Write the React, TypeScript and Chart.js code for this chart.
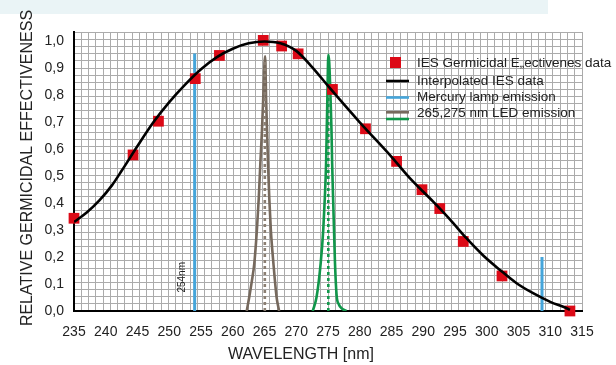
import React, { useEffect, useRef } from 'react';
import { Chart, registerables } from 'chart.js';

Chart.register(...registerables);

// ---- axis setup ----
const xMin = 235;
const xMax = 315;
const xTickStep = 5;
const yMin = 0;
const yMax = 1.035;
const yTickStep = 0.1;
const xGridStep = 80 / 70;
const yGridStep = 0.0265;

const xTitle = 'WAVELENGTH [nm]';
const yTitle = 'RELATIVE GERMICIDAL EFFECTIVENESS';

// ---- IES germicidal effectiveness data (red squares) ----
const iesWavelengths = [235, 244.3, 248.3, 254.1, 257.9, 264.8, 267.7, 270.3, 275.7, 280.9, 285.8, 289.8, 292.6, 296.3, 302.4, 313.1];
const iesValues = [0.344, 0.579, 0.704, 0.862, 0.948, 1.004, 0.983, 0.954, 0.822, 0.676, 0.555, 0.45, 0.38, 0.258, 0.13, 0.0];

// ---- interpolated IES curve ----
const interpWavelengths = [235, 237, 239, 241, 242.5, 245, 247.5, 250, 252.5, 255, 257.5, 260, 262.5, 265, 267.5, 270, 272.5, 275, 280, 285, 288, 291.6, 294.2, 296.8, 299.4, 302.1, 304.7, 307.3, 310, 312.6, 313.1];
const interpValues = [0.33, 0.365, 0.41, 0.467, 0.52, 0.612, 0.7, 0.775, 0.84, 0.897, 0.942, 0.973, 0.993, 1.0, 0.993, 0.965, 0.905, 0.835, 0.7, 0.572, 0.49, 0.405, 0.34, 0.27, 0.207, 0.152, 0.103, 0.066, 0.034, 0.01, 0.004];

// ---- mercury lamp emission lines ----
const mercuryWavelengths = [254, 308.7];
const mercuryPeaks = [0.955, 0.2];
const mercuryLabel = '254nm';

// ---- 265 nm LED emission ----
const led265Wavelengths = [262.2, 262.6, 263.0, 263.4, 263.8, 264.1, 264.35, 264.6, 264.8, 265.0, 265.1, 265.25, 265.4, 265.55, 265.75, 266.0, 266.4, 266.9, 267.3];
const led265Values = [0, 0.052, 0.11, 0.178, 0.3, 0.42, 0.55, 0.67, 0.79, 0.92, 0.945, 0.79, 0.67, 0.55, 0.42, 0.3, 0.178, 0.052, 0];

// ---- 275 nm LED emission ----
const led275Wavelengths = [272.6, 273.2, 273.85, 274.25, 274.5, 274.7, 274.8, 274.9, 275.0, 275.05, 275.2, 275.4, 275.55, 275.65, 275.8, 275.95, 276.1, 276.35, 276.7, 277.15, 277.9];
const led275Values = [0, 0.052, 0.178, 0.3, 0.42, 0.55, 0.67, 0.79, 0.92, 0.95, 0.92, 0.79, 0.67, 0.55, 0.42, 0.3, 0.178, 0.06, 0.025, 0.01, 0];

// ---- LED peak markers (dotted) ----
const ledPeakWavelengths = [265.05, 275.05];
const ledMarkerHeights = [0.93, 0.87];

// ---- legend ----
const legendLabels = ['IES Germicidal E\u201eectivenes data', 'Interpolated IES data', 'Mercury lamp emission', '265,275 nm LED emission'];

const RED = '#dc0a17';
const BLUE = '#45a5da';
const BROWN = '#76695d';
const BROWN_DOT = '#8a7e72';
const GREEN = '#10964a';
const GREEN_DOT = '#12994c';
const TEXT = '#222222';
const FONT = '"Liberation Sans", Arial, sans-serif';

const pts = (xs: number[], ys: number[]) => xs.map((x, i) => ({ x, y: ys[i] }));

const overlayPlugin = {
  id: 'overlay',
  afterDraw(chart: any) {
    const ctx = chart.ctx as CanvasRenderingContext2D;
    const xs = chart.scales.x;
    const ys = chart.scales.y;
    ctx.save();
    ctx.fillStyle = TEXT;
    // y title
    ctx.font = `16px ${FONT}`;
    ctx.textAlign = 'center';
    ctx.textBaseline = 'middle';
    ctx.save();
    ctx.translate(28, 168);
    ctx.rotate(-Math.PI / 2);
    ctx.fillText(yTitle, 0, 0);
    ctx.restore();
    // x title
    ctx.fillText(xTitle, 301, 355);
    // 254nm label
    ctx.font = `10px ${FONT}`;
    ctx.save();
    ctx.translate(xs.getPixelForValue(mercuryWavelengths[0]) - 12, ys.getPixelForValue(0.125));
    ctx.rotate(-Math.PI / 2);
    ctx.fillText(mercuryLabel, 0, 0);
    ctx.restore();
    // legend
    const lx = 386;
    const tx = 417;
    const rows = [62.5, 80.5, 97, 113];
    ctx.font = `13.5px ${FONT}`;
    ctx.textAlign = 'left';
    ctx.textBaseline = 'middle';
    legendLabels.forEach((t, i) => ctx.fillText(t, tx, rows[i] + 0.5));
    ctx.fillStyle = RED;
    ctx.fillRect(390, rows[0] - 5.5, 11, 11);
    ctx.lineWidth = 2.6;
    const seg = (y: number, c: string) => {
      ctx.strokeStyle = c;
      ctx.beginPath();
      ctx.moveTo(lx, y);
      ctx.lineTo(lx + 23, y);
      ctx.stroke();
    };
    seg(rows[1] + 0.5, '#000');
    seg(rows[2] + 0.5, BLUE);
    seg(rows[3] - 0.7, BROWN);
    seg(rows[3] + 6, GREEN);
    ctx.restore();
  },
};

export default function App() {
  const ref = useRef<HTMLCanvasElement>(null);
  useEffect(() => {
    if (!ref.current) return;
    const mercuryData: any[] = [];
    mercuryWavelengths.forEach((w, i) => {
      if (i > 0) mercuryData.push({ x: w, y: null });
      mercuryData.push({ x: w, y: 0 });
      mercuryData.push({ x: w, y: mercuryPeaks[i] });
    });
    const chart = new Chart(ref.current, {
      type: 'line',
      data: {
        datasets: [
          {
            label: legendLabels[1],
            data: pts(interpWavelengths, interpValues),
            borderColor: '#000',
            borderWidth: 2.6,
            pointRadius: 0,
            cubicInterpolationMode: 'monotone',
            fill: false,
          },
          {
            type: 'scatter',
            label: legendLabels[0],
            data: pts(iesWavelengths, iesValues),
            backgroundColor: RED,
            borderColor: RED,
            borderWidth: 0,
            pointStyle: 'rect',
            pointRadius: 7.6,
            showLine: false,
            clip: false,
          } as any,
          {
            label: legendLabels[2],
            data: mercuryData,
            borderColor: BLUE,
            borderWidth: 3,
            pointRadius: 0,
            spanGaps: false,
          },
          {
            label: 'LED 265 peak',
            data: [{ x: ledPeakWavelengths[0], y: 0 }, { x: ledPeakWavelengths[0], y: ledMarkerHeights[0] }],
            borderColor: BROWN_DOT,
            borderWidth: 2.6,
            borderDash: [3, 3],
            pointRadius: 0,
          },
          {
            label: 'LED 275 peak',
            data: [{ x: ledPeakWavelengths[1], y: 0 }, { x: ledPeakWavelengths[1], y: ledMarkerHeights[1] }],
            borderColor: GREEN_DOT,
            borderWidth: 2.6,
            borderDash: [3, 3],
            pointRadius: 0,
          },
          {
            label: '265 nm LED',
            data: pts(led265Wavelengths, led265Values),
            borderColor: BROWN,
            borderWidth: 2.6,
            pointRadius: 0,
            cubicInterpolationMode: 'monotone',
          },
          {
            label: '275 nm LED',
            data: pts(led275Wavelengths, led275Values),
            borderColor: GREEN,
            borderWidth: 2.6,
            pointRadius: 0,
            cubicInterpolationMode: 'monotone',
          },
        ],
      },
      options: {
        animation: false,
        responsive: false,
        devicePixelRatio: 1,
        layout: { padding: { left: 0, top: 32, right: 34, bottom: 0 } },
        plugins: { legend: { display: false }, tooltip: { enabled: false } },
        scales: {
          xg: {
            type: 'linear',
            position: 'top',
            min: xMin,
            max: xMax,
            ticks: { display: false, stepSize: xGridStep, maxTicksLimit: 200, autoSkip: false },
            grid: { color: '#ababab', lineWidth: 1, drawTicks: false },
            border: { display: false },
            afterFit: (s: any) => { s.height = 0; },
          },
          yg: {
            type: 'linear',
            position: 'right',
            min: yMin,
            max: yMax,
            ticks: { display: false, stepSize: yGridStep, maxTicksLimit: 200, autoSkip: false, includeBounds: false },
            grid: { color: '#ababab', lineWidth: 1, drawTicks: false },
            border: { display: false },
            afterFit: (s: any) => { s.width = 0; },
          },
          x: {
            type: 'linear',
            position: 'bottom',
            min: xMin,
            max: xMax,
            ticks: { stepSize: xTickStep, color: TEXT, font: { family: FONT, size: 14 }, padding: 13, maxRotation: 0, autoSkip: false },
            grid: { display: false, drawTicks: false },
            border: { display: true, color: '#000', width: 2 },
            afterFit: (s: any) => { s.height = 54; },
          },
          y: {
            type: 'linear',
            position: 'left',
            min: yMin,
            max: yMax,
            ticks: {
              stepSize: yTickStep,
              includeBounds: false,
              color: TEXT,
              font: { family: FONT, size: 14 },
              padding: 10,
              callback: (v: any) => Number(v).toFixed(1).replace('.', ','),
            },
            grid: { display: false, drawTicks: false },
            border: { display: true, color: '#000', width: 2 },
            afterFit: (s: any) => { s.width = 74; },
          },
        },
      } as any,
      plugins: [overlayPlugin],
    });
    return () => chart.destroy();
  }, []);

  return (
    <div style={{ position: 'absolute', left: 0, top: 0, width: 616, height: 365, background: '#fff' }}>
      <div style={{ position: 'absolute', left: 0, top: 0, width: 548, height: 14, background: '#eaf4f6' }} />
      <canvas ref={ref} width={616} height={365} style={{ position: 'absolute', left: 0, top: 0, width: 616, height: 365 }} />
    </div>
  );
}
